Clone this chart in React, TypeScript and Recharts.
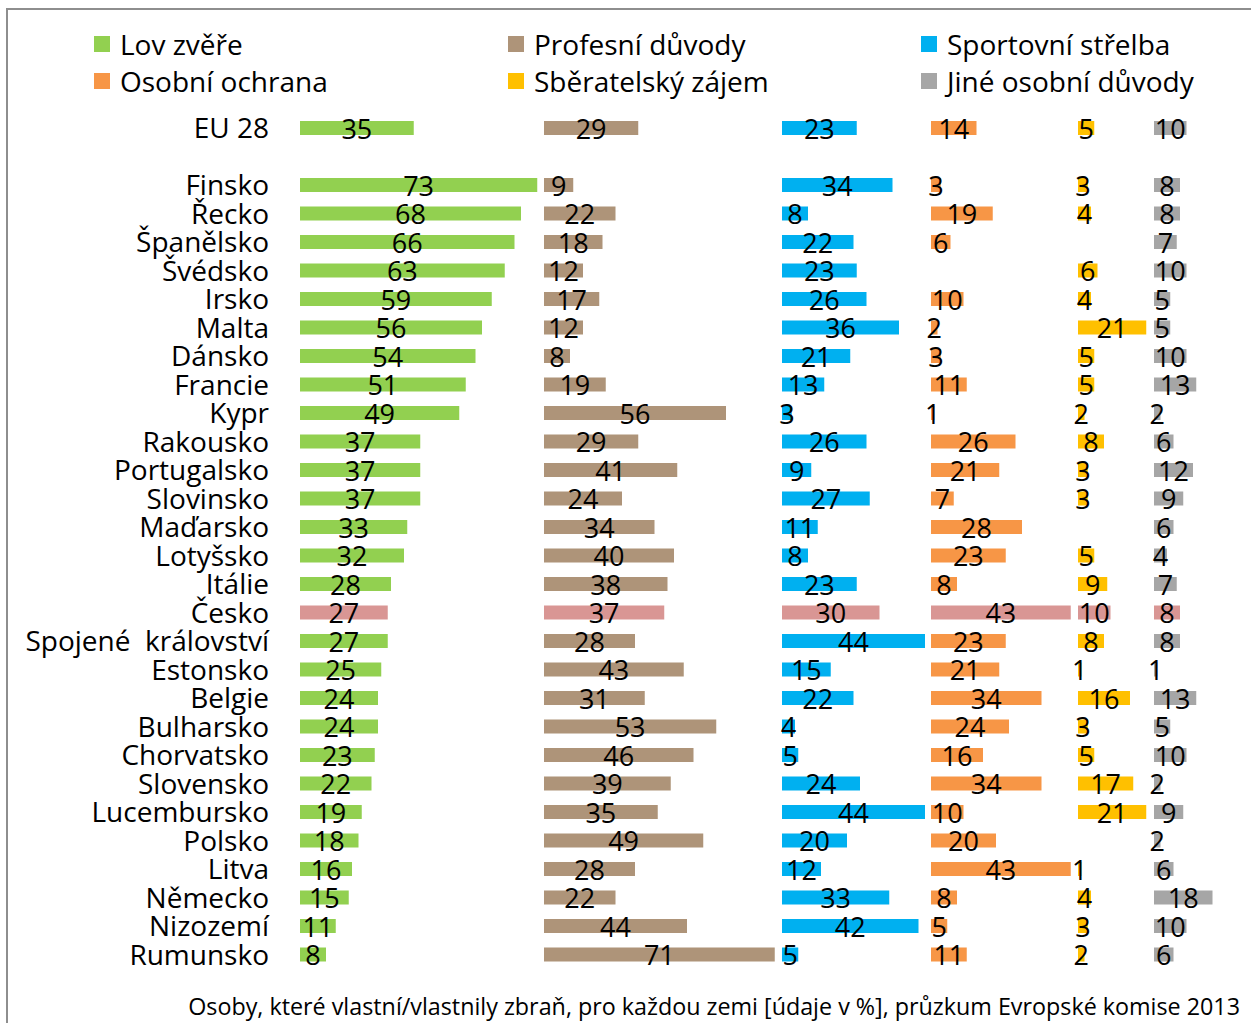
import { BarChart, Bar, XAxis, YAxis, Cell, LabelList } from "recharts";

const countries = [
  "EU 28", "", "Finsko", "Řecko", "Španělsko", "Švédsko", "Irsko", "Malta", "Dánsko", "Francie",
  "Kypr", "Rakousko", "Portugalsko", "Slovinsko", "Maďarsko", "Lotyšsko", "Itálie", "Česko",
  "Spojené\u00A0 království", "Estonsko", "Belgie", "Bulharsko", "Chorvatsko", "Slovensko",
  "Lucembursko", "Polsko", "Litva", "Německo", "Nizozemí", "Rumunsko",
];

const lov = [35, null, 73, 68, 66, 63, 59, 56, 54, 51, 49, 37, 37, 37, 33, 32, 28, 27, 27, 25, 24, 24, 23, 22, 19, 18, 16, 15, 11, 8];
const profesni = [29, null, 9, 22, 18, 12, 17, 12, 8, 19, 56, 29, 41, 24, 34, 40, 38, 37, 28, 43, 31, 53, 46, 39, 35, 49, 28, 22, 44, 71];
const sportovni = [23, null, 34, 8, 22, 23, 26, 36, 21, 13, 3, 26, 9, 27, 11, 8, 23, 30, 44, 15, 22, 4, 5, 24, 44, 20, 12, 33, 42, 5];
const ochrana = [14, null, 3, 19, 6, null, 10, 2, 3, 11, 1, 26, 21, 7, 28, 23, 8, 43, 23, 21, 34, 24, 16, 34, 10, 20, 43, 8, 5, 11];
const sberatelsky = [5, null, 3, 4, null, 6, 4, 21, 5, 5, 2, 8, 3, 3, null, 5, 9, 10, 8, 1, 16, 3, 5, 17, 21, null, 1, 4, 3, 2];
const jine = [10, null, 8, 8, 7, 10, 5, 5, 10, 13, 2, 6, 12, 9, 6, 4, 7, 8, 8, 1, 13, 5, 10, 2, 9, 2, 6, 18, 10, 6];

const highlight = "Česko";
const highlightColor = "#D99694";

const data = countries.map((country, i) => ({
  country,
  lov: lov[i],
  profesni: profesni[i],
  sportovni: sportovni[i],
  ochrana: ochrana[i],
  sberatelsky: sberatelsky[i],
  jine: jine[i],
}));

// x0 = where the column's zero sits, span = units until next column
const columns = [
  { key: "lov", name: "Lov zvěře", color: "#92D050", x0: 300, span: 75 },
  { key: "profesni", name: "Profesní důvody", color: "#AE9479", x0: 544, span: 73 },
  { key: "sportovni", name: "Sportovní střelba", color: "#00B0F0", x0: 782, span: 46 },
  { key: "ochrana", name: "Osobní ochrana", color: "#F79646", x0: 931, span: 45 },
  { key: "sberatelsky", name: "Sběratelský zájem", color: "#FFC000", x0: 1078, span: 23.4 },
  { key: "jine", name: "Jiné osobní důvody", color: "#A6A6A6", x0: 1154, span: 26 },
];

const legendOrder = ["lov", "profesni", "sportovni", "ochrana", "sberatelsky", "jine"];
const legendX = [94, 508, 921];

const UNIT = 3.25;
const PAD = 14;
const CHART_H = 980;
const MARGIN_TOP = 114;
const MARGIN_BOTTOM = 11;

const Column = ({ col, first }) => {
  const plotW = col.span * UNIT;
  const left = first ? 0 : col.x0 - PAD;
  const width = first ? col.x0 + plotW + PAD : plotW + PAD * 2;
  return (
    <div style={{ position: "absolute", left, top: 0 }}>
      <BarChart
        width={width}
        height={CHART_H}
        data={data}
        layout="vertical"
        margin={{ top: MARGIN_TOP, bottom: MARGIN_BOTTOM, left: first ? 0 : PAD, right: PAD }}
        barSize={14}
      >
        <XAxis type="number" domain={[0, col.span]} hide allowDataOverflow />
        {first ? (
          <YAxis
            type="category"
            dataKey="country"
            width={col.x0}
            interval={0}
            axisLine={false}
            tickLine={false}
            tickMargin={25}
            tick={{ fill: "#000000", fontSize: 28 }}
          />
        ) : (
          <YAxis type="category" dataKey="country" hide />
        )}
        <Bar dataKey={col.key} fill={col.color} isAnimationActive={false}>
          {data.map((d, i) => (
            <Cell key={i} fill={d.country === highlight ? highlightColor : col.color} />
          ))}
          <LabelList dataKey={col.key} position="center" fill="#000000" fontSize={27} dy={1} />
        </Bar>
      </BarChart>
    </div>
  );
};

const App = () => {
  return (
    <div
      style={{
        position: "absolute",
        left: 0,
        top: 0,
        width: 1251,
        height: 1023,
        overflow: "hidden",
        background: "#ffffff",
        fontFamily: "'Open Sans', sans-serif",
      }}
    >
      <div
        style={{
          position: "absolute",
          left: 6,
          top: 8,
          width: 1300,
          height: 1100,
          border: "2px solid #8E8E8E",
        }}
      />
      {legendOrder.map((key, i) => {
        const col = columns.find((c) => c.key === key);
        const row = i < 3 ? 0 : 1;
        const x = legendX[i % 3];
        return (
          <div
            key={key}
            style={{
              position: "absolute",
              left: x,
              top: 24 + row * 37,
              height: 40,
              display: "flex",
              alignItems: "center",
              fontSize: 28,
              color: "#000000",
              whiteSpace: "nowrap",
            }}
          >
            <span style={{ display: "inline-block", width: 16, height: 16, background: col.color, marginRight: 10 }} />
            {col.name}
          </div>
        );
      })}
      {columns.map((col, i) => (
        <Column key={col.key} col={col} first={i === 0} />
      ))}
      <div
        style={{
          position: "absolute",
          right: 11,
          top: 990,
          fontSize: 23.3,
          color: "#000000",
          whiteSpace: "nowrap",
        }}
      >
        Osoby, které vlastní/vlastnily zbraň, pro každou zemi [údaje v %], průzkum Evropské komise 2013
      </div>
    </div>
  );
};

export default App;
